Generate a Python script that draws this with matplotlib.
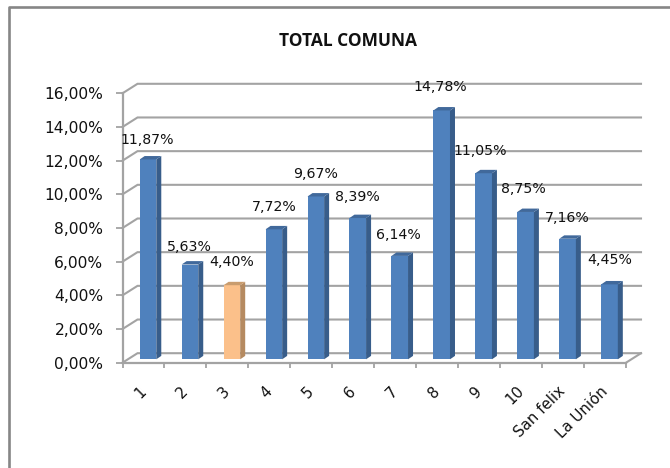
import matplotlib
matplotlib.use("Agg")
import matplotlib.pyplot as plt
from matplotlib.lines import Line2D
from matplotlib.patches import Polygon
from matplotlib.transforms import Affine2D

categories = ["1", "2", "3", "4", "5", "6", "7", "8", "9", "10", "San felix", "La Unión"]
values = [11.87, 5.63, 4.40, 7.72, 9.67, 8.39, 6.14, 14.78, 11.05, 8.75, 7.16, 4.45]
value_labels = ["11,87%", "5,63%", "4,40%", "7,72%", "9,67%", "8,39%", "6,14%",
                "14,78%", "11,05%", "8,75%", "7,16%", "4,45%"]
y_ticks = [0, 2, 4, 6, 8, 10, 12, 14, 16]
y_tick_labels = ["0,00%", "2,00%", "4,00%", "6,00%", "8,00%", "10,00%", "12,00%", "14,00%", "16,00%"]
highlight = 2

# label offsets from the bar's top centre, in pixels (x right, y up)
label_dx = [-1, -1, 0, 0, 0, 0, -1, -1, -3, -2, 0, 0]
label_dy = [19, 18, 23, 22, 22, 21, 21, 23.5, 22, 23, 21, 24]

W, H = 670, 468
L, R, T, B = 122.5, 626, 93.3, 362.7

fig = plt.figure(figsize=(W / 100, H / 100), dpi=100, facecolor="white")
ax = fig.add_axes([L / W, 1 - B / H, (R - L) / W, (B - T) / H])
ax.set_xlim(0, len(categories))
ax.set_ylim(0, 16)
ax.patch.set_alpha(0)

px = len(categories) / (R - L)
py = 16 / (B - T)

GRID = "#a3a3a3"
FONT = "DejaVu Sans"

# chart border, running off the image at right and bottom
fig.add_artist(Line2D([9 / W, 9 / W, 1], [0, 1 - 7 / H, 1 - 7 / H], color="#868686", lw=1.9))

# wall and floor
wx, wy = 15 * px, 9.5 * py
n = len(categories)
for v in y_ticks:
    ax.plot([0, wx, n + wx], [v, v + wy, v + wy], color=GRID, lw=1.5, clip_on=False, zorder=1,
            solid_joinstyle="miter")
ax.plot([n, n + wx], [0, wy], color=GRID, lw=1.5, clip_on=False, zorder=1)

# bars
bar_w = 16.6 * px
sx, sy = 5 * px, 3.4 * py
ox, oy = 4.5 * px, 3.4 * py
for i, v in enumerate(values):
    hi = i == highlight
    front = "#FBC08A" if hi else "#4F81BD"
    side = "#B58A60" if hi else "#385D8A"
    top = "#C99C6E" if hi else "#41699B"
    x0 = i + 0.5 + ox - bar_w / 2
    x1 = x0 + bar_w
    base = oy
    top_y = base + v
    ax.bar(x0, v, width=bar_w, bottom=base, align="edge", color=front, zorder=3, clip_on=False)
    ax.add_patch(Polygon([(x1, base), (x1 + sx, base + sy), (x1 + sx, top_y + sy), (x1, top_y)],
                         closed=True, fc=side, ec="none", zorder=3, clip_on=False))
    ax.add_patch(Polygon([(x0, top_y), (x0 + sx, top_y + sy), (x1 + sx, top_y + sy), (x1, top_y)],
                         closed=True, fc=top, ec="none", zorder=3, clip_on=False))
    ax.text(x0 + bar_w / 2 + label_dx[i] * px, top_y + label_dy[i] * py, value_labels[i],
            ha="center", va="center", fontsize=10.2, family=FONT, color="#111111", zorder=5)

# axes
for s in ("top", "right"):
    ax.spines[s].set_visible(False)
for s in ("left", "bottom"):
    ax.spines[s].set_color(GRID)
    ax.spines[s].set_linewidth(1.6)
    ax.spines[s].set_zorder(2)

ax.set_yticks(y_ticks)
ax.set_yticklabels(y_tick_labels, fontsize=11.2, family=FONT, color="#111111")
ax.tick_params(axis="y", length=4.7, width=1.3, color=GRID, pad=9)

ax.set_xticks(range(n + 1))
ax.set_xticklabels([])
ax.tick_params(axis="x", which="major", length=3.8, width=1.3, color=GRID)
ax.set_xticks([i + 0.5 for i in range(n)], minor=True)
ax.set_xticklabels(categories, minor=True, rotation=45, ha="right", rotation_mode="anchor",
                   fontsize=10.8, family=FONT, color="#111111")
ax.tick_params(axis="x", which="minor", length=0, pad=15)
for lab in ax.get_xticklabels(minor=True):
    lab.set_transform(lab.get_transform() + Affine2D().translate(-5, 0))

fig.text(348 / W, 1 - 41 / H, "TOTAL COMUNA", ha="center", va="center",
         fontsize=12.5, fontweight="bold", family="Open Sans", color="#111111")

fig.savefig("out.png", dpi=100)
